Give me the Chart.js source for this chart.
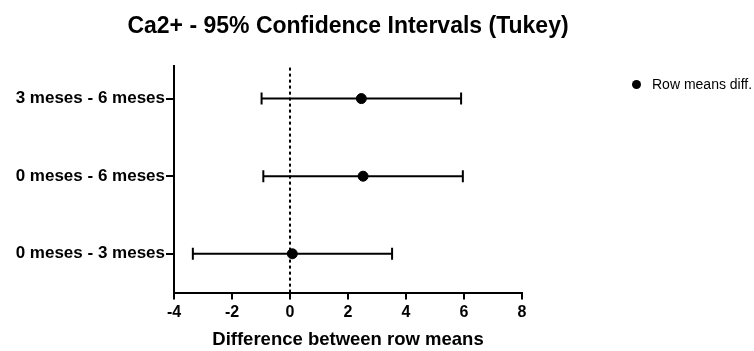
<!DOCTYPE html>
<html>
<head>
<meta charset="utf-8">
<script src="https://cdn.jsdelivr.net/npm/chart.js@4/dist/chart.umd.min.js"></script>
<style>
  html, body { margin: 0; padding: 0; background: #fff; }
  .wrap { position: relative; width: 754px; height: 351px; }
  .legend { position: absolute; left: 632px; top: 76px; display: flex; align-items: center;
    font: 14px "Liberation Sans", Arial, sans-serif; color: #000; white-space: nowrap; }
  .legend-dot { width: 9px; height: 9px; border-radius: 50%; background: #000; margin-right: 11px; }
</style>
</head>
<body>
<div class="wrap">
  <canvas id="chart" width="754" height="351"></canvas>
  <div class="legend"><span class="legend-dot"></span><span>Row means diff.</span></div>
</div>
<script>
// Tukey comparisons, bottom row first
const rowLabels = ["0 meses - 3 meses", "0 meses - 6 meses", "3 meses - 6 meses"]
const meanDiffs = [0.08, 2.52, 2.46]
const lowerCI = [-3.35, -0.92, -0.98]
const upperCI = [3.52, 5.96, 5.90]
const xTicks = [-4, -2, 0, 2, 4, 6, 8]

const FONT = "'Liberation Sans', Arial, sans-serif"
const TITLE = "Ca2+ - 95% Confidence Intervals (Tukey)"

// Title centred over the plot area (built-in title squeezes it to the box width)
const plotTitlePlugin = {
  id: "plotTitle",
  afterDraw(chart) {
    const { ctx, chartArea } = chart
    ctx.save()
    ctx.font = `bold 23px ${FONT}`
    ctx.fillStyle = "#000"
    ctx.textAlign = "center"
    ctx.textBaseline = "middle"
    ctx.fillText(TITLE, (chartArea.left + chartArea.right) / 2, 27)
    ctx.restore()
  }
}

const intervalSets = rowLabels.map((label, i) => ({
  label: label,
  data: [{ x: lowerCI[i], y: i }, { x: upperCI[i], y: i }],
  showLine: true,
  borderColor: "#000",
  borderWidth: 2,
  pointStyle: "line",
  rotation: 90,
  pointRadius: 6,
  pointBorderColor: "#000",
  pointBorderWidth: 2
}))

new Chart(document.getElementById("chart"), {
  type: "scatter",
  plugins: [plotTitlePlugin],
  data: {
    datasets: [
      {
        label: "zero",
        data: [{ x: 0, y: -0.5 }, { x: 0, y: 2.42 }],
        showLine: true,
        borderColor: "#000",
        borderWidth: 2,
        borderDash: [3, 3],
        pointRadius: 0
      },
      ...intervalSets,
      {
        label: "Row means diff.",
        data: meanDiffs.map((m, i) => ({ x: m, y: i })),
        pointRadius: 5,
        backgroundColor: "#000",
        borderColor: "#000"
      }
    ]
  },
  options: {
    responsive: false,
    animation: false,
    layout: { padding: { left: 8, right: 232, top: 66, bottom: 0 } },
    plugins: {
      legend: { display: false },
      tooltip: { enabled: false },
      title: { display: false }
    },
    scales: {
      x: {
        type: "linear",
        min: -4,
        max: 8,
        afterBuildTicks: (axis) => { axis.ticks = xTicks.map(v => ({ value: v })) },
        border: { color: "#000", width: 2 },
        grid: { drawOnChartArea: false, drawTicks: true, tickLength: 7, color: "#000", lineWidth: 2 },
        ticks: { color: "#000", padding: 3, maxRotation: 0, font: { family: FONT, size: 16, weight: "bold" } },
        title: {
          display: true,
          text: "Difference between row means",
          color: "#000",
          font: { family: FONT, size: 18.5, weight: "bold" },
          padding: { top: 4, bottom: 0 }
        }
      },
      y: {
        type: "linear",
        min: -0.5,
        max: 2.42,
        afterBuildTicks: (axis) => { axis.ticks = rowLabels.map((_, i) => ({ value: i })) },
        afterFit: (axis) => { axis.width = 166 },
        border: { color: "#000", width: 2 },
        grid: { drawOnChartArea: false, drawTicks: true, tickLength: 8, color: "#000", lineWidth: 2 },
        ticks: {
          color: "#000",
          padding: 1,
          font: { family: FONT, size: 17, weight: "bold" },
          callback: (v) => rowLabels[v]
        }
      }
    }
  }
})
</script>
</body>
</html>
